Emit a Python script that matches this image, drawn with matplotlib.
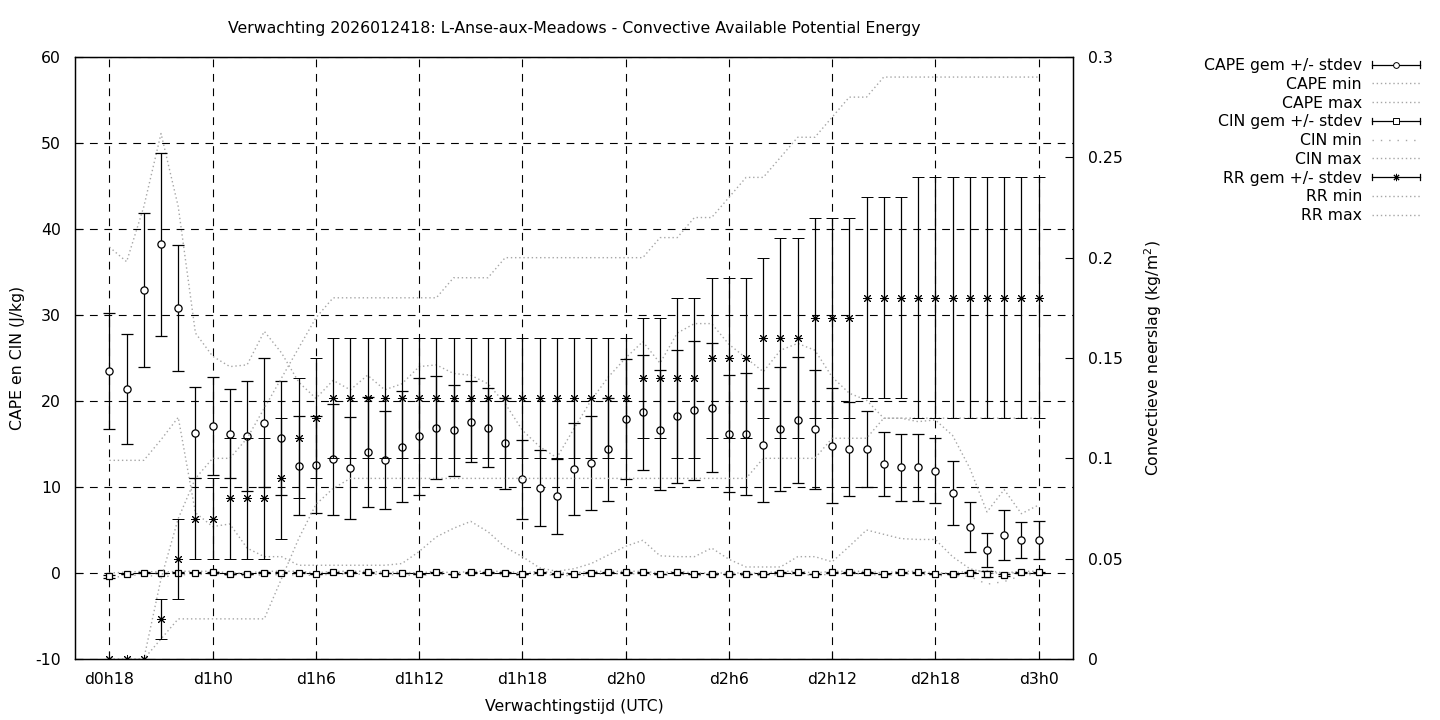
import matplotlib
matplotlib.use('Agg')
import matplotlib.pyplot as plt
from matplotlib.lines import Line2D
from matplotlib.legend_handler import HandlerBase

plt.rcParams['axes.unicode_minus'] = False

# forecast hours, d0h18 .. d3h0
hours = list(range(18, 73))
xtick_pos = [18, 24, 30, 36, 42, 48, 54, 60, 66, 72]
xtick_lbl = ['d0h18', 'd1h0', 'd1h6', 'd1h12', 'd1h18', 'd2h0', 'd2h6', 'd2h12', 'd2h18', 'd3h0']

cape_mean = [23.5, 21.4, 32.9, 38.2, 30.8, 16.3, 17.1, 16.2, 15.9, 17.5, 15.7, 12.5, 12.6, 13.2, 12.2,
             14.1, 13.1, 14.7, 15.9, 16.9, 16.6, 17.6, 16.9, 15.1, 10.9, 9.9, 8.9, 12.1, 12.8, 14.4,
             17.9, 18.7, 16.6, 18.2, 18.9, 19.2, 16.2, 16.2, 14.9, 16.7, 17.8, 16.7, 14.8, 14.4, 14.4,
             12.7, 12.3, 12.3, 11.9, 9.3, 5.3, 2.7, 4.4, 3.8, 3.8]
cape_std = [6.7, 6.4, 9.0, 10.6, 7.3, 5.3, 5.7, 5.2, 6.4, 7.5, 6.6, 5.7, 5.6, 6.5, 5.9,
            6.4, 5.7, 6.5, 6.8, 6.0, 5.3, 4.7, 4.6, 5.3, 4.6, 4.4, 4.4, 5.4, 5.5, 6.0,
            7.0, 6.7, 7.0, 7.7, 8.1, 7.5, 6.8, 7.1, 6.6, 7.2, 7.3, 6.9, 6.7, 5.5, 4.4,
            3.7, 3.9, 3.9, 3.8, 3.7, 2.9, 2.0, 2.9, 2.1, 2.2]
cape_min = [13.1, 13.1, 13.1, 15.5, 18.1, 7.0, 5.4, 5.7, 2.9, 1.9, 1.9, 0.9, 0.9, 0.9, 0.9,
            0.9, 0.9, 1.1, 2.5, 4.2, 5.2, 6.0, 4.8, 3.0, 1.9, 0.6, 0.2, 0.5, 1.1, 2.1,
            3.1, 3.8, 2.0, 1.9, 1.9, 2.9, 1.6, 0.7, 0.7, 0.7, 1.9, 1.9, 1.3, 3.1, 5.0,
            4.5, 4.0, 3.9, 3.9, 1.9, 0.5, 0.0, 0.0, 0.0, 0.0]
cape_max = [37.9, 36.2, 42.6, 51.1, 42.6, 27.9, 25.2, 24.0, 24.2, 28.1, 25.6, 22.2, 20.3, 22.4, 21.3,
            23.0, 21.3, 22.0, 24.0, 24.2, 23.2, 23.0, 22.0, 19.7, 16.6, 14.7, 13.4, 16.8, 20.1, 22.8,
            25.0, 26.9, 24.4, 27.9, 29.0, 29.0, 26.6, 25.0, 23.4, 25.9, 26.7, 25.9, 22.8, 20.9, 20.1,
            18.0, 18.0, 17.6, 17.8, 16.0, 12.2, 7.1, 9.7, 6.9, 7.9]

cin_mean = [-0.39, -0.12, 0.03, 0.0, 0.03, 0.03, 0.08, -0.12, -0.12, 0.03, 0.03, 0.03, -0.12, 0.08, 0.03,
            0.08, 0.0, 0.0, -0.12, 0.08, -0.12, 0.08, 0.08, 0.03, -0.12, 0.08, -0.12, -0.12, 0.03, 0.08,
            0.08, 0.08, -0.12, 0.08, -0.12, -0.12, -0.12, -0.12, -0.12, 0.03, 0.08, -0.12, 0.08, 0.08, 0.08,
            -0.12, 0.08, 0.08, -0.12, -0.12, 0.03, -0.12, -0.25, 0.08, 0.08]
cin_std = [0.15, 0.05, 0.05, 0.05, 0.05, 0.05, 0.05, 0.05, 0.05, 0.05, 0.05, 0.05, 0.05, 0.05, 0.05,
           0.05, 0.05, 0.05, 0.05, 0.05, 0.05, 0.05, 0.05, 0.05, 0.05, 0.05, 0.05, 0.05, 0.05, 0.05,
           0.05, 0.05, 0.05, 0.05, 0.05, 0.05, 0.05, 0.05, 0.05, 0.05, 0.05, 0.05, 0.05, 0.05, 0.05,
           0.05, 0.05, 0.05, 0.05, 0.05, 0.05, 0.35, 0.1, 0.05, 0.05]
cin_min = [-0.6, -0.3, -0.2, -0.5, -0.2, -0.2, -0.1, -0.3, -0.3, -0.2, -0.2, -0.2, -0.3, -0.1, -0.2,
           -0.1, -0.2, -0.2, -0.3, -0.1, -0.3, -0.1, -0.1, -0.2, -0.3, -0.1, -0.3, -0.3, -0.2, -0.1,
           -0.1, -0.1, -0.3, -0.1, -0.3, -0.3, -0.3, -0.3, -0.3, -0.2, -0.1, -0.3, -0.1, -0.1, -0.1,
           -0.3, -0.1, -0.1, -0.3, -0.3, -0.4, -1.3, -1.0, -0.3, -0.1]
cin_max = [0.0, 0.1, 0.2, 0.1, 0.2, 0.2, 0.2, 0.0, 0.0, 0.2, 0.2, 0.2, 0.0, 0.2, 0.2,
           0.2, 0.1, 0.1, 0.0, 0.2, 0.0, 0.2, 0.2, 0.2, 0.0, 0.2, 0.0, 0.0, 0.2, 0.2,
           0.2, 0.2, 0.0, 0.2, 0.0, 0.0, 0.0, 0.0, 0.0, 0.2, 0.2, 0.0, 0.2, 0.2, 0.2,
           0.0, 0.2, 0.2, 0.0, 0.0, 0.2, 0.3, 0.0, 0.2, 0.2]

rr_mean = [0, 0, 0, 0.02, 0.05, 0.07, 0.07, 0.08, 0.08, 0.08, 0.09, 0.11, 0.12, 0.13, 0.13,
           0.13, 0.13, 0.13, 0.13, 0.13, 0.13, 0.13, 0.13, 0.13, 0.13, 0.13, 0.13, 0.13, 0.13, 0.13,
           0.13, 0.14, 0.14, 0.14, 0.14, 0.15, 0.15, 0.15, 0.16, 0.16, 0.16, 0.17, 0.17, 0.17, 0.18,
           0.18, 0.18, 0.18, 0.18, 0.18, 0.18, 0.18, 0.18, 0.18, 0.18]
rr_std = [0, 0, 0, 0.01, 0.02, 0.02, 0.02, 0.03, 0.03, 0.03, 0.03, 0.03, 0.03, 0.03, 0.03,
          0.03, 0.03, 0.03, 0.03, 0.03, 0.03, 0.03, 0.03, 0.03, 0.03, 0.03, 0.03, 0.03, 0.03, 0.03,
          0.03, 0.03, 0.03, 0.04, 0.04, 0.04, 0.04, 0.04, 0.04, 0.05, 0.05, 0.05, 0.05, 0.05, 0.05,
          0.05, 0.05, 0.06, 0.06, 0.06, 0.06, 0.06, 0.06, 0.06, 0.06]
rr_min = [0, 0, 0, 0.01, 0.02, 0.02, 0.02, 0.02, 0.02, 0.02, 0.04, 0.06, 0.077, 0.085, 0.09,
          0.09, 0.09, 0.09, 0.09, 0.09, 0.09, 0.09, 0.09, 0.09, 0.09, 0.09, 0.09, 0.09, 0.09, 0.09,
          0.09, 0.09, 0.09, 0.09, 0.09, 0.09, 0.09, 0.09, 0.10, 0.10, 0.10, 0.10, 0.11, 0.11, 0.11,
          0.12, 0.12, 0.12, 0.12, 0.12, 0.12, 0.12, 0.12, 0.12, 0.12]
rr_max = [0, 0, 0, 0.04, 0.07, 0.09, 0.10, 0.10, 0.11, 0.125, 0.14, 0.155, 0.17, 0.18, 0.18,
          0.18, 0.18, 0.18, 0.18, 0.18, 0.19, 0.19, 0.19, 0.20, 0.20, 0.20, 0.20, 0.20, 0.20, 0.20,
          0.20, 0.20, 0.21, 0.21, 0.22, 0.22, 0.23, 0.24, 0.24, 0.25, 0.26, 0.26, 0.27, 0.28, 0.28,
          0.29, 0.29, 0.29, 0.29, 0.29, 0.29, 0.29, 0.29, 0.29, 0.29]

GRAY = '#a6a6a6'
FINE = (0, (1, 2))
SPARSE = (0, (1, 5))
STAR = (8, 2, 0)
FS = 11.3


class HandlerGpErr(HandlerBase):
    # gnuplot style errorbar key: horizontal bar with end ticks, marker in the middle
    def create_artists(self, legend, orig, xdescent, ydescent, width, height, fontsize, trans):
        y = height / 2 - ydescent
        x0, x1 = -xdescent, width - xdescent
        c = height * 0.3
        arts = [Line2D([x0, x1], [y, y], color='k', lw=0.9),
                Line2D([x0, x0], [y - c, y + c], color='k', lw=0.9),
                Line2D([x1, x1], [y - c, y + c], color='k', lw=0.9),
                Line2D([(x0 + x1) / 2], [y], marker=orig.get_marker(), ms=orig.get_markersize() * 0.8,
                       mfc='white', mec='k', mew=0.7, ls='none')]
        for a in arts:
            a.set_transform(trans)
        return arts


fig = plt.figure(figsize=(14.4, 7.2), dpi=100)
ax = fig.add_axes([75 / 1440, 1 - 659 / 720, 998 / 1440, 602 / 720])
ax2 = ax.twinx()

ebkw = dict(ls='none', color='k', elinewidth=0.9, capsize=4.3, capthick=0.9, mfc='white', mec='k', zorder=4)

ax.plot(hours, cape_min, color=GRAY, lw=1, ls=FINE, zorder=2)
ax.plot(hours, cape_max, color=GRAY, lw=1, ls=FINE, zorder=2)
ax.plot(hours, cin_min, color=GRAY, lw=1, ls=SPARSE, zorder=2)
ax.plot(hours, cin_max, color=GRAY, lw=1, ls=FINE, zorder=2)
ax.errorbar(hours, cape_mean, yerr=cape_std, marker='o', ms=5.2, mew=0.9, **ebkw)
ax.errorbar(hours, cin_mean, yerr=cin_std, marker='s', ms=5.0, mew=0.9, **ebkw)

ax2.plot(hours, rr_min, color=GRAY, lw=1, ls=FINE, zorder=2)
ax2.plot(hours, rr_max, color=GRAY, lw=1, ls=FINE, zorder=2)
ax2.errorbar(hours, rr_mean, yerr=rr_std, marker=STAR, ms=6.5, mew=0.7, **ebkw)

ax.set_xlim(16, 74)
ax.set_ylim(-10, 60)
ax2.set_ylim(0, 0.3)

ax.set_xticks(xtick_pos)
ax.set_xticklabels(xtick_lbl)
ax.set_yticks(range(-10, 61, 10))
ax2.set_yticks([0, 0.05, 0.1, 0.15, 0.2, 0.25, 0.3])
ax2.set_yticklabels(['0', '0.05', '0.1', '0.15', '0.2', '0.25', '0.3'])

ax.tick_params(axis='both', direction='in', length=6, width=0.8, labelsize=FS, top=False, right=False)
ax.tick_params(axis='y', pad=10)
ax.tick_params(axis='x', pad=9)
ax2.tick_params(axis='y', direction='in', length=6, width=0.8, labelsize=FS, pad=11)
ax.grid(True, color='k', lw=0.8, ls=(0, (7, 6)))
ax.set_axisbelow(True)
for a in (ax, ax2):
    for s in a.spines.values():
        s.set_linewidth(0.9)

fig.text(574 / 1440, 1 - 29 / 720,
         'Verwachting 2026012418: L-Anse-aux-Meadows - Convective Available Potential Energy',
         ha='center', va='center', fontsize=FS)
fig.text(574 / 1440, 1 - 706 / 720, 'Verwachtingstijd (UTC)', ha='center', va='center', fontsize=FS)
fig.text(18 / 1440, 1 - 358 / 720, 'CAPE en CIN (J/kg)', rotation=90, ha='center', va='center', fontsize=FS)
fig.text(1153 / 1440, 1 - 358 / 720, 'Convectieve neerslag (kg/m$^2$)', rotation=90,
         ha='center', va='center', fontsize=FS)

# key, gnuplot style, outside on the right
h_cape = Line2D([], [], marker='o', ms=5.2)
h_cin = Line2D([], [], marker='s', ms=5.0)
h_rr = Line2D([], [], marker=STAR, ms=6.5)
dot = lambda ls: Line2D([], [], color=GRAY, lw=1, ls=ls)
handles = [h_cape, dot(FINE), dot(FINE), h_cin, dot(SPARSE), dot(FINE), h_rr, dot(FINE), dot(FINE)]
labels = ['CAPE gem +/- stdev', 'CAPE min', 'CAPE max', 'CIN gem +/- stdev', 'CIN min', 'CIN max',
          'RR gem +/- stdev', 'RR min', 'RR max']
fig.legend(handles, labels, loc='upper right', bbox_to_anchor=(1420 / 1440, 1 - 58 / 720),
           frameon=False, markerfirst=False, fontsize=FS, handlelength=3.05, handletextpad=0.65,
           labelspacing=0.24, borderpad=0, borderaxespad=0,
           handler_map={h_cape: HandlerGpErr(), h_cin: HandlerGpErr(), h_rr: HandlerGpErr()})

fig.savefig('out.png', dpi=100)
